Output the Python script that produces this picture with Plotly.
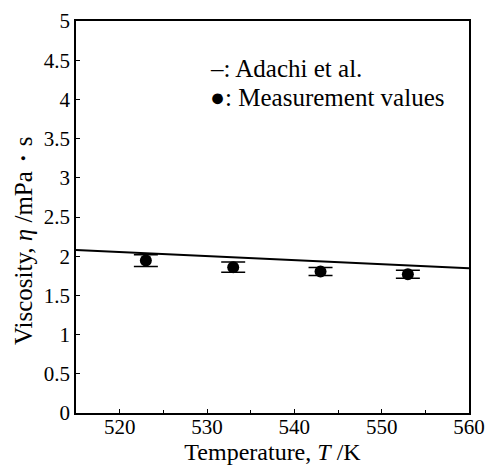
import plotly.graph_objects as go

# Data
adachi_T = [515, 560]
adachi_eta = [2.08, 1.845]

meas_T = [523, 533, 543, 553]
meas_eta = [1.945, 1.86, 1.805, 1.77]
meas_err = [0.075, 0.065, 0.05, 0.05]

x_ticks = [520, 530, 540, 550, 560]
y_ticks = [0, 0.5, 1, 1.5, 2, 2.5, 3, 3.5, 4, 4.5, 5]

font = "Liberation Serif"

fig = go.Figure()
fig.add_trace(go.Scatter(x=adachi_T, y=adachi_eta, mode="lines",
                         line=dict(color="black", width=2), showlegend=False))
fig.add_trace(go.Scatter(x=meas_T, y=meas_eta, mode="markers",
                         marker=dict(color="black", size=12),
                         error_y=dict(type="data", array=meas_err, color="black",
                                      thickness=1.5, width=12),
                         showlegend=False))

fig.update_layout(
    xaxis=dict(range=[515, 560], tickmode="array", tickvals=x_ticks,
               ticktext=[str(v) for v in x_ticks],
               tickfont=dict(family=font, size=21, color="black"),
               ticklabelstandoff=-6,
               showline=True, linecolor="black", linewidth=1.5, mirror=True,
               ticks="inside", ticklen=4, tickcolor="black", showgrid=False,
               zeroline=False, automargin=False,
               minor=dict(ticks="inside", ticklen=3, dtick=5, tick0=515, tickcolor="black"),
               title=dict(text="Temperature, <i>T</i> /K", font=dict(family=font, size=24, color="black"),
                          standoff=0)),
    yaxis=dict(range=[0, 5], tickmode="array", tickvals=y_ticks,
               ticktext=[f"{v:g}" for v in y_ticks],
               tickfont=dict(family=font, size=21, color="black"),
               showline=True, linecolor="black", linewidth=1.5, mirror=True,
               ticks="inside", ticklen=4, tickcolor="black", showgrid=False,
               zeroline=False, automargin=False),
)

fig.add_annotation(x=-0.132, y=0.439, xref="paper", yref="paper", xanchor="center", yanchor="middle",
                   text="Viscosity, <i>η</i> /mPa・s", textangle=-90, showarrow=False,
                   font=dict(family=font, size=25, color="black"))
fig.add_annotation(x=0.335, y=0.878, xref="paper", yref="paper", xanchor="left", yanchor="middle",
                   text="–: Adachi et al.", showarrow=False,
                   font=dict(family=font, size=25, color="black"))
fig.add_annotation(x=0.335, y=0.806, xref="paper", yref="paper", xanchor="left", yanchor="middle",
                   text="●: Measurement values", showarrow=False,
                   font=dict(family=font, size=25, color="black"))

fig.update_layout(width=488, height=467, margin=dict(l=76, r=19, t=21, b=54, autoexpand=False),
                  plot_bgcolor="white", paper_bgcolor="white", template="none",
                  font=dict(family=font, size=21, color="black"))

fig.write_html("out.html", config={"displayModeBar": False},
               post_script="document.body.style.margin='0';document.body.style.overflow='hidden';")
